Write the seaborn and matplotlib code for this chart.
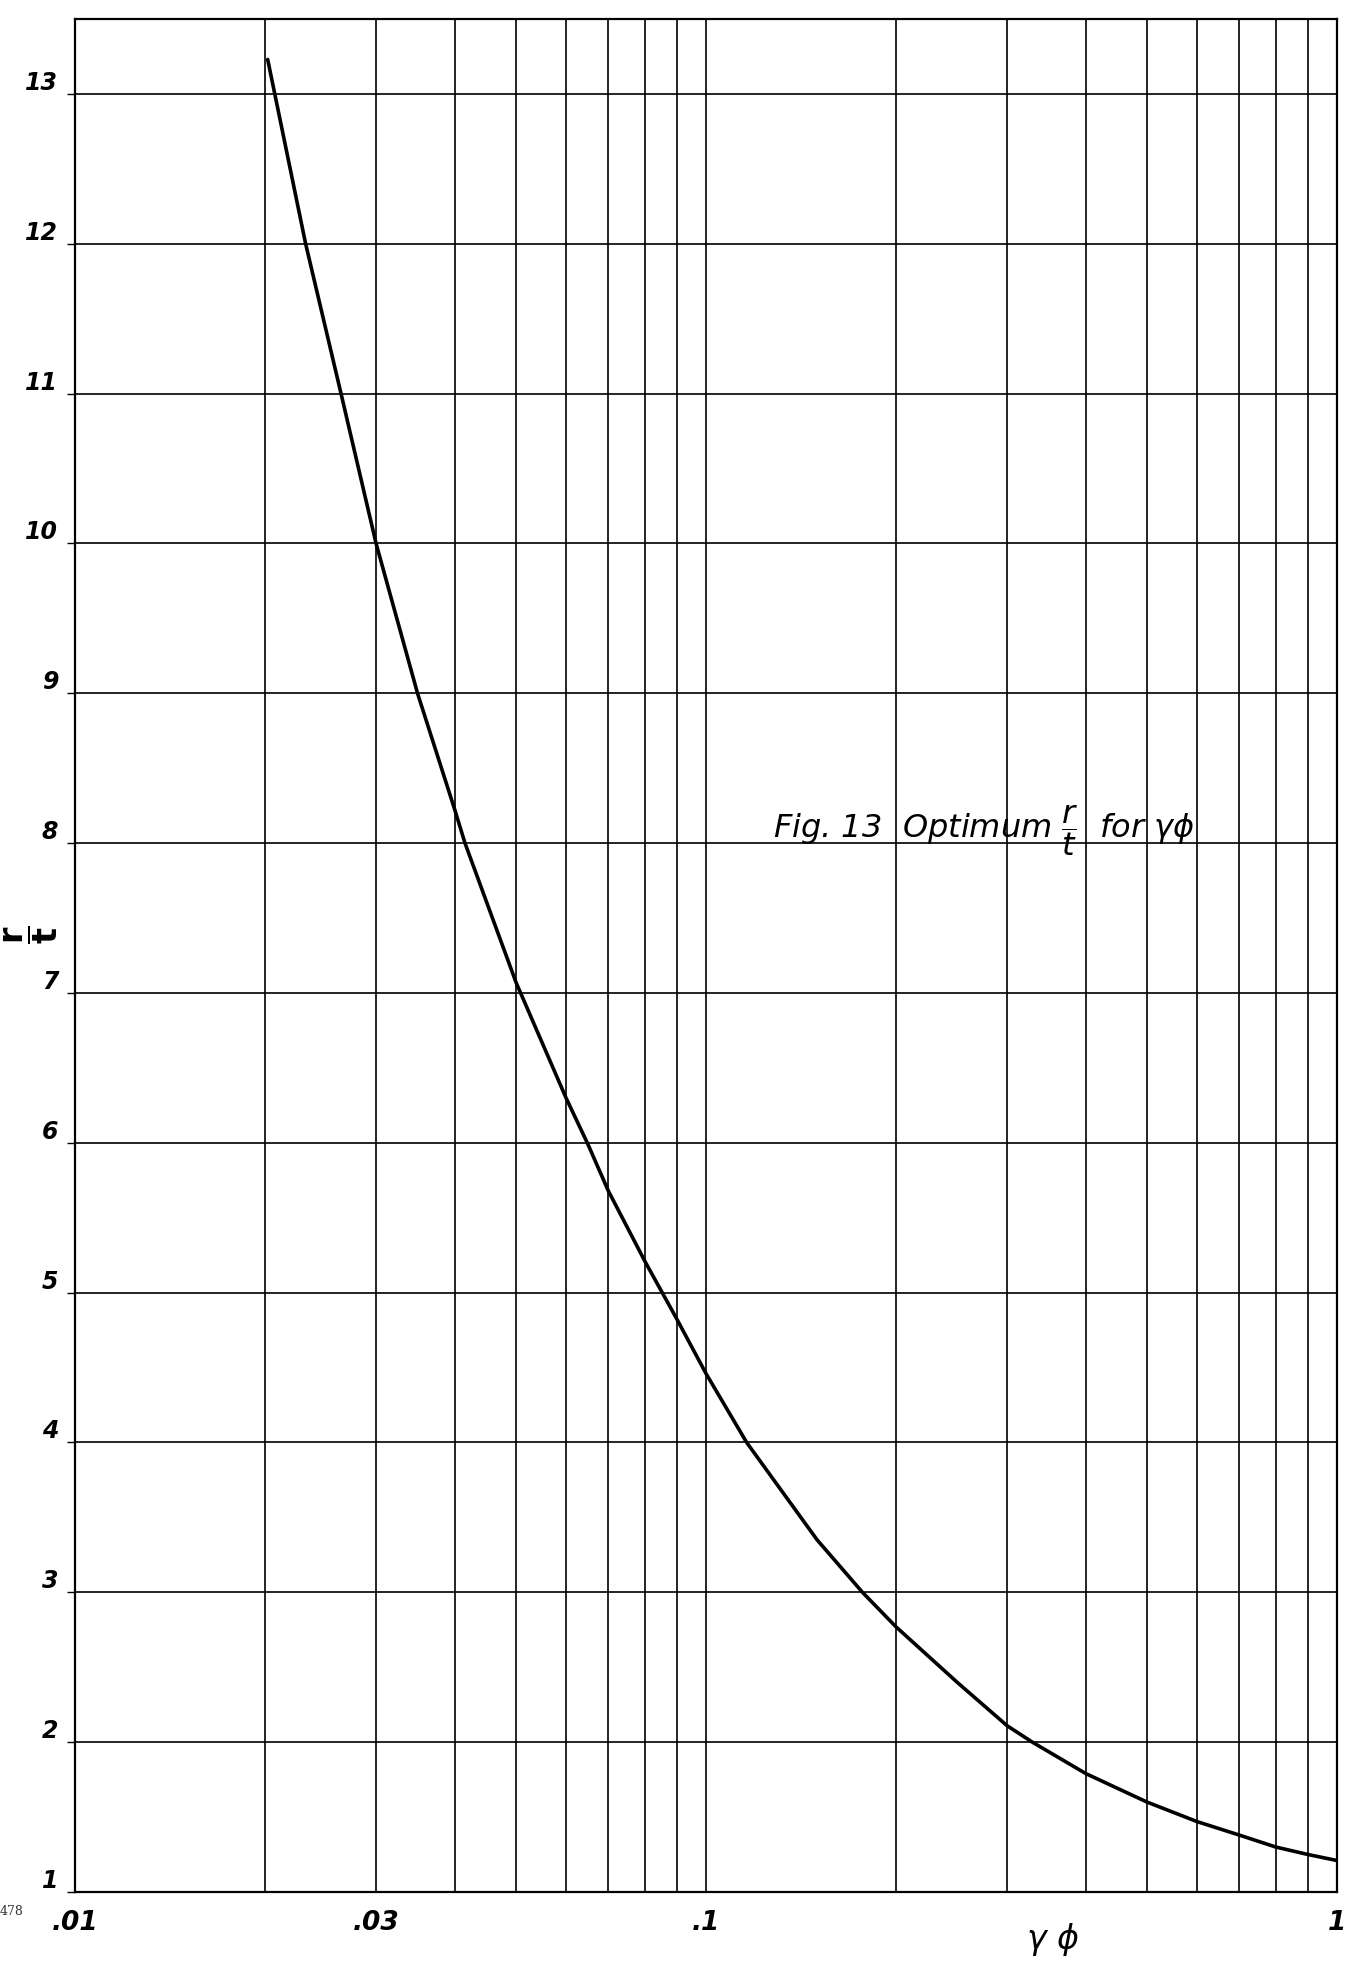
import numpy as np
import pandas as pd
import matplotlib
matplotlib.use("Agg")
import matplotlib.pyplot as plt
import seaborn as sns

# ---- data ----
gamma_phi = [0.0202, 0.0232, 0.0264, 0.030, 0.0349, 0.040, 0.0415, 0.050,
             0.060, 0.065, 0.070, 0.080, 0.090, 0.100, 0.116, 0.150,
             0.177, 0.200, 0.250, 0.300, 0.329, 0.400, 0.500, 0.600, 0.700,
             0.800, 0.900, 1.000]
r_over_t = [13.23, 12.0, 11.0, 10.0, 9.0, 8.22, 8.0, 7.07,
            6.30, 5.99, 5.68, 5.21, 4.82, 4.46, 4.0, 3.35,
            3.0, 2.77, 2.40, 2.11, 2.0, 1.79, 1.60, 1.47, 1.38,
            1.30, 1.25, 1.21]

x_grid = [0.01, 0.02, 0.03, 0.04, 0.05, 0.06, 0.07, 0.08, 0.09,
          0.1, 0.2, 0.3, 0.4, 0.5, 0.6, 0.7, 0.8, 0.9, 1.0]
x_labels = [".01", "", ".03", "", "", "", "", "", "",
            ".1", "", "", "", "", "", "", "", "", "1"]
y_ticks = [1, 2, 3, 4, 5, 6, 7, 8, 9, 10, 11, 12, 13]
y_labels = [str(v) for v in y_ticks]

df = pd.DataFrame({"gamma_phi": gamma_phi, "r_over_t": r_over_t})

sns.set_style("white")
plt.rcParams["font.family"] = ["DejaVu Sans"]
plt.rcParams["text.color"] = "black"

W, H = 1359, 1965
fig = plt.figure(figsize=(W / 100, H / 100), dpi=100)
ax = fig.add_axes([75 / W, 1 - 1893 / H, (1337 - 75) / W, (1893 - 20) / H])

sns.lineplot(data=df, x="gamma_phi", y="r_over_t", ax=ax, color="black",
             linewidth=2.6, estimator=None, sort=True)

ax.set_xscale("log")
ax.set_xlim(0.01, 1.0)
ax.set_ylim(1, 13.5)

ax.set_xticks(x_grid)
ax.set_xticklabels(x_labels)
ax.xaxis.set_minor_locator(matplotlib.ticker.NullLocator())
ax.set_yticks(y_ticks)
ax.set_yticklabels(y_labels)

ax.grid(True, which="major", color="black", linewidth=1.2)
ax.set_axisbelow(True)
for s in ax.spines.values():
    s.set_visible(True)
    s.set_color("black")
    s.set_linewidth(1.6)

ax.tick_params(axis="x", length=0, pad=12, labelsize=19, labelcolor="black")
ax.tick_params(axis="y", length=6, width=1, pad=6, labelsize=17, left=True,
               labelcolor="black", color="black")
for lab in ax.get_xticklabels():
    lab.set_fontstyle("italic")
    lab.set_fontweight("bold")
for lab in ax.get_yticklabels():
    lab.set_fontstyle("italic")
    lab.set_fontweight("bold")
    lab.set_va("bottom")

ax.set_xlabel("")
ax.set_ylabel("")

# axis titles
fig.text(1053 / W, 1 - 1940 / H, r"$\gamma\ \phi$", fontsize=24,
         ha="center", va="center", color="black")
fig.text(31 / W, 1 - 935 / H, r"$\dfrac{\mathbf{r}}{\mathbf{t}}$", fontsize=24,
         rotation=90, ha="center", va="center", color="black")

# annotation
fig.text(773 / W, 1 - 838 / H,
         r"Fig. 13  Optimum $\dfrac{r}{t}$  for $\gamma\phi$",
         fontsize=23, fontstyle="italic", ha="left", va="baseline",
         color="black")

# page number
fig.text(0 / W, 1 - 1912 / H, "478", fontsize=9, family="DejaVu Serif",
         ha="left", va="center", color="#333333")

fig.savefig("out.png", dpi=100)
